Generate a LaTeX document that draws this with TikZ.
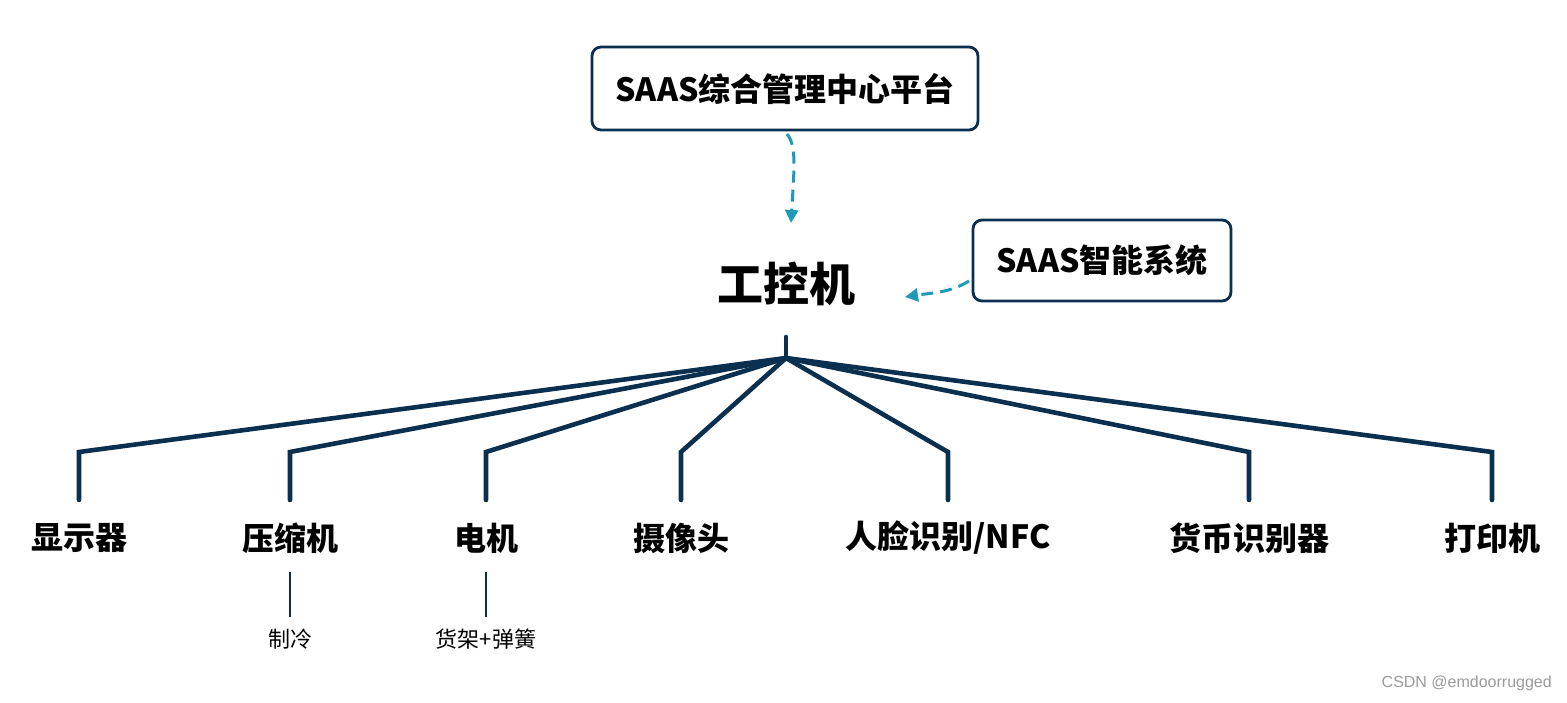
\documentclass[tikz,border=0pt]{standalone}
\usepackage{fontspec}
\setmainfont{Noto Sans CJK SC}
\newfontfamily\wmfont{Liberation Sans}
\usetikzlibrary{arrows.meta}
\definecolor{navy}{HTML}{0B2F4E}
\definecolor{teal}{HTML}{1E9AB8}
\definecolor{wmgray}{HTML}{9A9A9A}
\tikzset{
  box/.style={draw=navy, line width=2.8pt, rounded corners=9pt, fill=white, font=\fontsize{32}{36}\selectfont\bfseries, inner sep=0pt},
  lab/.style={font=\fontsize{32}{36}\selectfont\bfseries, text=black, inner sep=0pt, anchor=center},
  sublab/.style={font=\fontsize{22}{26}\selectfont, text=black, inner sep=0pt},
  branch/.style={draw=navy, line width=4.6pt, line cap=round, line join=miter},
  subline/.style={draw=navy, line width=2.4pt},
  flow/.style={draw=teal, line width=3pt, dash pattern=on 12pt off 7pt, -{Triangle[length=13pt,width=13pt]}}
}
\begin{document}
\begin{tikzpicture}[x=1pt,y=-1pt]
\useasboundingbox (0,0) rectangle (1567,702);
% boxes
\node[box, minimum width=386pt, minimum height=83pt] (top) at (785,88.5) {SAAS综合管理中心平台};
\node[box, minimum width=258pt, minimum height=81pt] (sys) at (1102,260.5) {SAAS智能系统};
\node[lab, font=\fontsize{46}{50}\selectfont\bfseries] (gk) at (786,284) {工控机};
% flows
\coordinate (a1s) at (787,134);
\coordinate (a1e) at (791,223);
\draw[flow] (a1s) .. controls (797,146) and (794,170) .. (a1e);
\coordinate (a2s) at (969,281);
\coordinate (a2e) at (905,297);
\draw[flow] (a2s) .. controls (950,293) and (930,293) .. (a2e);
% tree
\coordinate (trunk) at (786,337);
\coordinate (hub) at (786,358);
\draw[branch] (trunk) -- (hub);
\foreach \n/\x/\t in {1/79/{显示器}, 2/290/{压缩机}, 3/486/{电机}, 4/681/{摄像头}, 5/948/{人脸识别/NFC}, 6/1249/{货币识别器}, 7/1492/{打印机}}{
  \coordinate (c\n) at (\x,452);
  \coordinate (e\n) at (\x,500);
  \node[lab] (l\n) at (\x,538) {\t};
  \draw[branch] (hub) -- (c\n) -- (e\n);
}
% sub items
\node[sublab] (s2) at (290,639) {制冷};
\node[sublab] (s3) at (486,639) {货架+弹簧};
\coordinate (t2) at (290,572);
\coordinate (b2) at (290,617);
\coordinate (t3) at (486,572);
\coordinate (b3) at (486,617);
\draw[subline] (t2) -- (b2);
\draw[subline] (t3) -- (b3);
% watermark
\node[font=\wmfont\fontsize{16}{18}\selectfont, text=wmgray, anchor=east, inner sep=0pt] (wm) at (1552,683) {CSDN @emdoorrugged};
\end{tikzpicture}
\end{document}
